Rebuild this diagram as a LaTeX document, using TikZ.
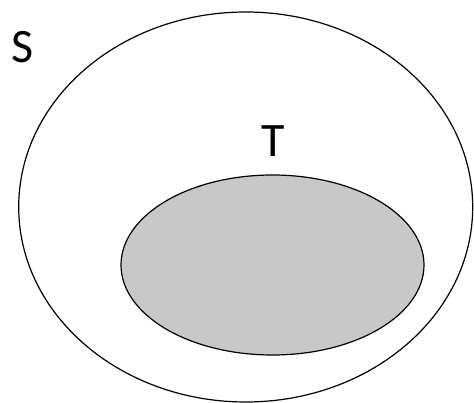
\documentclass[tikz,border=0pt]{standalone}
\usepackage{fontspec}
\setmainfont{Carlito}
\begin{document}
\begin{tikzpicture}[x=1pt,y=-1pt,
  setline/.style={draw=black,line width=1.2pt},
  lbl/.style={font=\fontsize{48}{48}\selectfont,inner sep=0pt}]
\useasboundingbox (0,0) rectangle (474,403);
\fill[white] (0,0) rectangle (474,403);
\draw[setline] (245.7,207) ellipse [x radius=227, y radius=195];
\draw[setline,fill={rgb,255:red,200;green,200;blue,200}] (272.5,265) ellipse [x radius=151.5, y radius=90];
\node[lbl] (S) at (23,47) {S};
\node[lbl] (T) at (273.5,141) {T};
\end{tikzpicture}
\end{document}
